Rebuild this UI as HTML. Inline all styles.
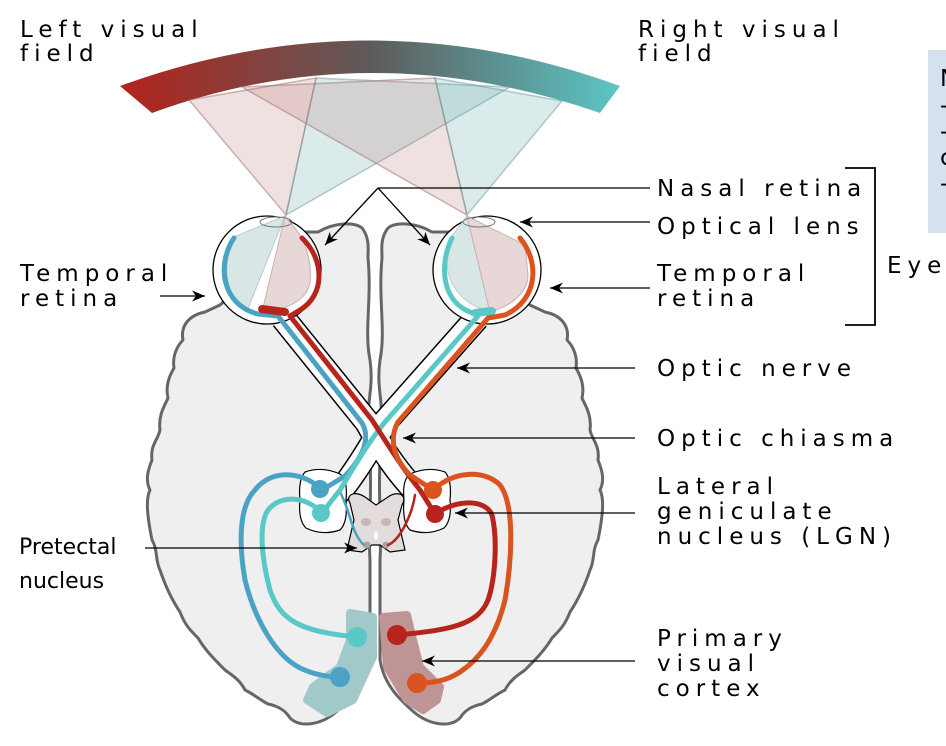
<!DOCTYPE html>
<html><head><meta charset="utf-8"><style>
html,body{margin:0;padding:0;background:#fff;}
svg{display:block;}
text{font-family:"DejaVu Sans","Liberation Sans",sans-serif;font-size:23px;fill:#000;letter-spacing:6px;}
.p{letter-spacing:0;font-size:22px;}
</style></head><body>
<svg width="946" height="746" viewBox="0 0 946 746" xmlns="http://www.w3.org/2000/svg">
<defs>
<linearGradient id="g" x1="120" y1="0" x2="620" y2="0" gradientUnits="userSpaceOnUse">
<stop offset="0" stop-color="#b3231c"/><stop offset="0.5" stop-color="#5e5a5a"/><stop offset="1" stop-color="#5cc6c6"/>
</linearGradient>
<marker id="a" markerWidth="16" markerHeight="12" refX="0" refY="0" viewBox="-14 -6 16 12" orient="auto" markerUnits="userSpaceOnUse">
<path d="M0,0 L-13,-5.5 L-9,0 L-13,5.5 Z" fill="#000"/>
</marker>
</defs>

<path d="M120,86 Q370,-5 620,86 L600,113 Q370,33 152,113 Z" fill="url(#g)"/>

<g stroke-width="1.5" stroke-opacity="0.5">
<path d="M189,100 L316,78 L286,215 Z" fill="#b56a6a" fill-opacity="0.2" stroke="#a07070"/>
<path d="M316,78 L510,87 L286,215 Z" fill="#5aa3a3" fill-opacity="0.22" stroke="#6f9a9a"/>
<path d="M242,87 L435,78 L467,215 Z" fill="#b56a6a" fill-opacity="0.2" stroke="#a07070"/>
<path d="M435,78 L562,101 L467,215 Z" fill="#5aa3a3" fill-opacity="0.22" stroke="#6f9a9a"/>
</g>

<g id="hemi" fill="#efefef" stroke="#666" stroke-width="3" stroke-linejoin="round">
<path d="M368,258 C372,300 364,330 370,360 C374,390 366,400 370,420 L370,460 C372,500 368,530 370,560 L370,660 C366,685 350,700 335,713 C320,725 300,728 290,718 C285,710 278,706 268,704 C260,700 255,695 245,690 C240,680 232,675 225,670 C215,660 205,650 198,638 C190,630 185,625 180,612 C172,600 165,585 160,570 C155,560 158,550 152,540 C148,520 145,500 150,490 C145,480 148,470 152,460 C150,445 158,440 160,430 C158,415 165,405 168,398 C165,385 170,375 174,368 C172,355 178,345 183,340 C180,325 190,315 205,312 L220,305 L300,232 L318,232 C335,222 355,222 362,228 C370,238 368,250 368,258 Z"/>
</g>
<use href="#hemi" transform="translate(750,0) scale(-1,1)"/>

<path d="M350,613 L373,617 L373,657 L353,700 L327,713 L307,700 L313,687 L340,667 L350,640 Z" fill="#a2c9c9" stroke="#a2c9c9" stroke-width="8" stroke-linejoin="round"/>
<path d="M383,617 L407,615 L413,640 L420,667 L440,687 L437,700 L423,710 L407,700 L387,667 Z" fill="#bf9494" stroke="#bf9494" stroke-width="8" stroke-linejoin="round"/>

<g fill="none" stroke-linecap="butt" stroke-linejoin="round">
<path d="M283,318 L367,422 C380,445 392,465 410,485 L430,505" stroke="#000" stroke-width="26"/>
<path d="M477,318 L385,422 C372,445 360,465 345,485 L325,505" stroke="#000" stroke-width="26"/>
<path d="M283,318 L367,422 C380,445 392,465 410,485 L430,505" stroke="#fff" stroke-width="23"/>
<path d="M477,318 L385,422 C372,445 360,465 345,485 L325,505" stroke="#fff" stroke-width="23"/>
</g>
<path d="M305,472 Q322,466 340,474 Q348,480 346,500 Q348,522 340,530 Q322,536 306,528 Q298,520 300,500 Q298,480 305,472 Z" fill="#fff" stroke="#000" stroke-width="1.2"/>
<path d="M445,472 Q428,466 410,474 Q402,480 404,500 Q402,522 410,530 Q428,536 444,528 Q452,520 450,500 Q452,480 445,472 Z" fill="#fff" stroke="#000" stroke-width="1.2"/>

<circle cx="267" cy="270" r="54" fill="#fff" stroke="#000" stroke-width="1.3"/>
<circle cx="487" cy="270" r="54" fill="#fff" stroke="#000" stroke-width="1.3"/>
<path d="M285,216 L236,236 C220,262 226,300 247,311 Z" fill="#d9e6e6" stroke="#b8cccc"/>
<path d="M285,216 L262,312 C290,310 308,298 310,282 C312,262 306,244 298,232 Z" fill="#e7d7d7" stroke="#c8b0b0"/>
<path d="M467,216 L452,236 C440,262 447,300 490,312 Z" fill="#d9e6e6" stroke="#b8cccc"/>
<path d="M467,216 L490,312 C515,305 528,290 528,275 L525,245 Z" fill="#e7d7d7" stroke="#c8b0b0"/>
<ellipse cx="276" cy="222" rx="16" ry="5" fill="none" stroke="#777" stroke-width="1"/>
<ellipse cx="479" cy="222" rx="16" ry="5" fill="none" stroke="#777" stroke-width="1"/>

<path d="M350,503 C345,495 355,490 365,497 L376,505 L388,497 C398,490 408,495 402,505 L398,520 L405,550 L390,552 L380,545 L372,545 L362,552 L347,550 L354,520 Z" fill="#e2dcdc" stroke="#000" stroke-width="1.2"/>
<ellipse cx="366" cy="522" rx="5" ry="4" fill="#c9b7b7"/>
<ellipse cx="386" cy="522" rx="5" ry="4" fill="#c9b7b7"/>
<ellipse cx="376" cy="536" rx="2" ry="4" fill="#fff"/>
<circle cx="367" cy="545" r="3.5" fill="#b0a0a0"/>
<circle cx="386" cy="545" r="3.5" fill="#b0a0a0"/>

<g fill="none" stroke-width="5" stroke-linecap="round" stroke-linejoin="round">
<path d="M234,238 C216,265 222,305 258,314 L278,316 L362,423 C372,440 360,460 345,476 L322,490" stroke="#4aa3c4"/>
<path d="M320,488 C300,470 270,470 255,490 C240,505 238,540 245,580 C255,620 275,655 300,668 C315,675 330,677 340,677" stroke="#4aa3c4"/>
<path d="M340,492 C350,510 352,535 364,545" stroke="#4aa3c4" stroke-width="2.5"/>

<path d="M452,238 C440,262 440,300 470,312 L478,316 L385,422 C370,440 355,465 340,490 L322,513" stroke="#5bc8c8"/>
<path d="M322,513 C305,495 280,495 268,510 C258,525 262,560 270,590 C280,620 300,632 357,637" stroke="#5bc8c8"/>
<path d="M475,313 L492,311" stroke="#5bc8c8" stroke-width="8"/>

<path d="M302,238 C325,260 325,295 300,310 L290,316 L372,420 C385,440 400,465 420,490 L435,514" stroke="#b8231c"/>
<path d="M435,514 C455,500 485,498 492,515 C498,540 495,580 488,600 C478,625 450,630 397,635" stroke="#b8231c"/>
<path d="M415,495 C412,515 400,540 388,545" stroke="#b8231c" stroke-width="2.5"/>
<path d="M262,309 L285,312" stroke="#b8231c" stroke-width="8"/>

<path d="M520,238 C540,262 538,300 505,315 L488,318 L398,422 C388,440 395,460 410,475 L433,490" stroke="#d9541f"/>
<path d="M433,490 C455,470 485,470 500,485 C515,505 512,560 505,600 C495,640 478,660 460,672 C445,682 430,683 417,683" stroke="#d9541f"/>
</g>
<g>
<circle cx="320" cy="489" r="9" fill="#4aa3c4"/>
<circle cx="321" cy="513" r="9" fill="#5bc8c8"/>
<circle cx="433" cy="490" r="9" fill="#d9541f"/>
<circle cx="435" cy="514" r="9" fill="#b8231c"/>
<circle cx="357" cy="637" r="10" fill="#5bc8c8"/>
<circle cx="340" cy="677" r="10" fill="#4aa3c4"/>
<circle cx="397" cy="635" r="10" fill="#b8231c"/>
<circle cx="417" cy="683" r="10" fill="#d9541f"/>
</g>

<g stroke="#000" stroke-width="1.3" fill="none">
<path d="M650,188 L378,188"/>
<path d="M378,188 L325,245" marker-end="url(#a)"/>
<path d="M378,188 L430,245" marker-end="url(#a)"/>
<path d="M650,222 L520,222" marker-end="url(#a)"/>
<path d="M650,288 L550,288" marker-end="url(#a)"/>
<path d="M635,368 L457,368" marker-end="url(#a)"/>
<path d="M635,438 L403,438" marker-end="url(#a)"/>
<path d="M635,513 L455,513" marker-end="url(#a)"/>
<path d="M635,661 L422,661" marker-end="url(#a)"/>
<path d="M160,296 L205,296" marker-end="url(#a)"/>
<path d="M145,548 L357,548" marker-end="url(#a)"/>
<path d="M845,168 L875,168 L875,325 L845,325" stroke-width="1.8"/>
</g>

<rect x="928" y="50" width="18" height="183" fill="#d5e1ef"/>
<text x="940" y="86">N</text>
<text x="940" y="113">-</text>
<text x="940" y="139">-</text>
<text x="940" y="165">c</text>
<text x="940" y="191">-</text>

<text x="20" y="37">Left visual</text>
<text x="20" y="61">field</text>
<text x="638" y="37">Right visual</text>
<text x="638" y="61">field</text>
<text x="657" y="196">Nasal retina</text>
<text x="657" y="234">Optical lens</text>
<text x="657" y="281">Temporal</text>
<text x="657" y="306">retina</text>
<text x="887" y="273">Eye</text>
<text x="657" y="376">Optic nerve</text>
<text x="657" y="446">Optic chiasma</text>
<text x="657" y="494">Lateral</text>
<text x="657" y="519">geniculate</text>
<text x="657" y="544">nucleus (LGN)</text>
<text x="657" y="646">Primary</text>
<text x="657" y="671">visual</text>
<text x="657" y="696">cortex</text>
<text x="20" y="281">Temporal</text>
<text x="20" y="306">retina</text>
<text class="p" x="19" y="554">Pretectal</text>
<text class="p" x="19" y="588">nucleus</text>
</svg>
</body></html>
